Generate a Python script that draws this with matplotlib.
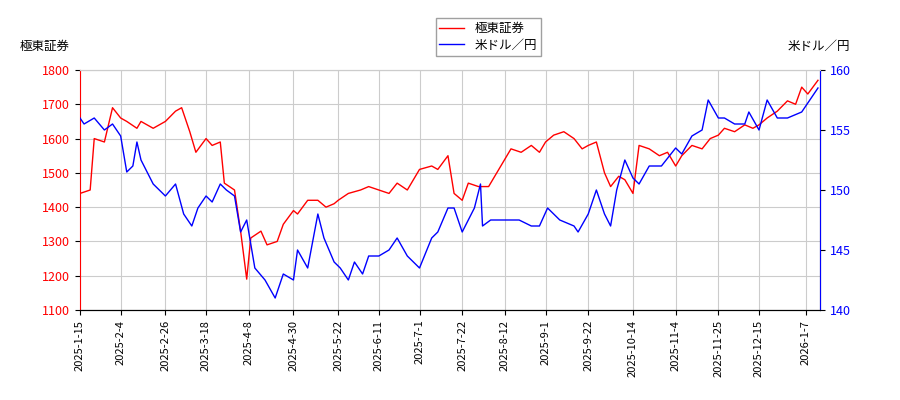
import matplotlib
matplotlib.use("Agg")
import matplotlib.pyplot as plt
import pandas as pd

plt.rcParams['font.family'] = ['Noto Sans CJK JP', 'DejaVu Sans']

stock_dates = ["2025-01-15","2025-01-20","2025-01-22","2025-01-27","2025-01-31","2025-02-04","2025-02-07","2025-02-12","2025-02-14","2025-02-20","2025-02-26","2025-03-03","2025-03-06","2025-03-10","2025-03-13","2025-03-18","2025-03-21","2025-03-25","2025-03-27","2025-04-01","2025-04-04","2025-04-07","2025-04-09","2025-04-14","2025-04-17","2025-04-22","2025-04-25","2025-04-30","2025-05-02","2025-05-07","2025-05-12","2025-05-16","2025-05-20","2025-05-22","2025-05-27","2025-06-02","2025-06-06","2025-06-11","2025-06-16","2025-06-20","2025-06-25","2025-07-01","2025-07-07","2025-07-10","2025-07-15","2025-07-18","2025-07-22","2025-07-25","2025-07-30","2025-08-04","2025-08-08","2025-08-12","2025-08-15","2025-08-20","2025-08-25","2025-08-29","2025-09-01","2025-09-05","2025-09-10","2025-09-15","2025-09-19","2025-09-22","2025-09-26","2025-09-30","2025-10-03","2025-10-07","2025-10-10","2025-10-14","2025-10-17","2025-10-22","2025-10-27","2025-10-31","2025-11-04","2025-11-07","2025-11-12","2025-11-17","2025-11-21","2025-11-25","2025-11-28","2025-12-03","2025-12-08","2025-12-12","2025-12-15","2025-12-19","2025-12-24","2025-12-29","2026-01-02","2026-01-05","2026-01-08","2026-01-13"]
stock_values = [1440,1450,1600,1590,1690,1660,1650,1630,1650,1630,1650,1680,1690,1620,1560,1600,1580,1590,1470,1450,1330,1190,1310,1330,1290,1300,1350,1390,1380,1420,1420,1400,1410,1420,1440,1450,1460,1450,1440,1470,1450,1510,1520,1510,1550,1440,1420,1470,1460,1460,1500,1540,1570,1560,1580,1560,1590,1610,1620,1600,1570,1580,1590,1500,1460,1490,1480,1440,1580,1570,1550,1560,1520,1550,1580,1570,1600,1610,1630,1620,1640,1630,1640,1660,1680,1710,1700,1750,1730,1770]

fx_dates = ["2025-01-15","2025-01-17","2025-01-22","2025-01-27","2025-01-31","2025-02-04","2025-02-07","2025-02-10","2025-02-12","2025-02-14","2025-02-20","2025-02-26","2025-03-03","2025-03-07","2025-03-11","2025-03-14","2025-03-18","2025-03-21","2025-03-25","2025-03-28","2025-04-01","2025-04-04","2025-04-07","2025-04-09","2025-04-11","2025-04-16","2025-04-21","2025-04-25","2025-04-30","2025-05-02","2025-05-07","2025-05-12","2025-05-15","2025-05-20","2025-05-23","2025-05-27","2025-05-30","2025-06-03","2025-06-06","2025-06-11","2025-06-16","2025-06-20","2025-06-25","2025-07-01","2025-07-07","2025-07-10","2025-07-15","2025-07-18","2025-07-22","2025-07-28","2025-07-31","2025-08-01","2025-08-05","2025-08-12","2025-08-19","2025-08-25","2025-08-29","2025-09-02","2025-09-08","2025-09-15","2025-09-17","2025-09-22","2025-09-26","2025-09-30","2025-10-03","2025-10-06","2025-10-10","2025-10-14","2025-10-17","2025-10-22","2025-10-28","2025-11-04","2025-11-07","2025-11-12","2025-11-17","2025-11-20","2025-11-25","2025-11-28","2025-12-03","2025-12-08","2025-12-10","2025-12-15","2025-12-19","2025-12-24","2025-12-29","2026-01-05","2026-01-09","2026-01-13"]
fx_values = [156,155.5,156,155,155.5,154.5,151.5,152,154,152.5,150.5,149.5,150.5,148,147,148.5,149.5,149,150.5,150,149.5,146.5,147.5,145.5,143.5,142.5,141,143,142.5,145,143.5,148,146,144,143.5,142.5,144,143,144.5,144.5,145,146,144.5,143.5,146,146.5,148.5,148.5,146.5,148.5,150.5,147,147.5,147.5,147.5,147,147,148.5,147.5,147,146.5,148,150,148,147,150,152.5,151,150.5,152,152,153.5,153,154.5,155,157.5,156,156,155.5,155.5,156.5,155,157.5,156,156,156.5,157.5,158.5]

tick_labels = ["2025-1-15","2025-2-4","2025-2-26","2025-3-18","2025-4-8","2025-4-30","2025-5-22","2025-6-11","2025-7-1","2025-7-22","2025-8-12","2025-9-1","2025-9-22","2025-10-14","2025-11-4","2025-11-25","2025-12-15","2026-1-7"]
left_ticks = [1100, 1200, 1300, 1400, 1500, 1600, 1700, 1800]
right_ticks = [140, 145, 150, 155, 160]

fig = plt.figure(figsize=(9, 4), dpi=100)
ax = fig.add_axes([80/900, 90/400, 740/900, 240/400])
ax2 = ax.twinx()

sd = pd.to_datetime(stock_dates)
fd = pd.to_datetime(fx_dates)
l1, = ax.plot(sd, stock_values, color='red', lw=1, label='極東証券')
l2, = ax2.plot(fd, fx_values, color='blue', lw=1, label='米ドル／円')

ax.set_ylim(1100, 1800)
ax2.set_ylim(140, 160)
ax.set_yticks(left_ticks)
ax2.set_yticks(right_ticks)
ax.set_xlim(pd.Timestamp("2025-01-15"), pd.Timestamp("2026-01-14"))
ax.set_xticks(pd.to_datetime(tick_labels))
ax.set_xticklabels(tick_labels, rotation=90, fontsize=8)
ax.grid(True, color='#cccccc', lw=0.8)
ax.tick_params(axis='y', labelcolor='red', labelsize=9)
ax2.tick_params(axis='y', labelcolor='blue', labelsize=9)
for a in (ax, ax2):
    for s in ('top',):
        a.spines[s].set_color('#cccccc')
ax.spines['left'].set_color('red')
ax2.spines['left'].set_visible(False)
ax2.spines['right'].set_color('blue')
fig.text(20/900, 1-46/400, '極東証券', fontsize=9, va='center')
fig.text(850/900, 1-46/400, '米ドル／円', fontsize=9, va='center', ha='right')
fig.legend(handles=[l1, l2], loc='upper center', bbox_to_anchor=(488/900, 1-12/400),
           fontsize=9, frameon=True, edgecolor='#888888', fancybox=False,
           borderpad=0.3, labelspacing=0.3)
fig.savefig('out.png')
